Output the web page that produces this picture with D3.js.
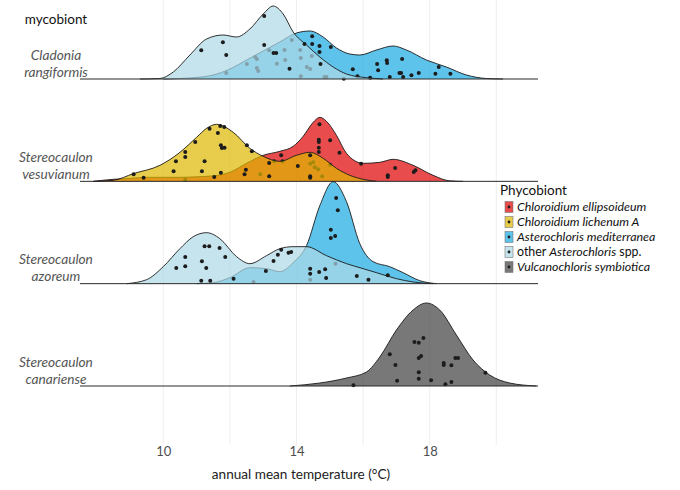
<!DOCTYPE html>
<html>
<head>
<meta charset="utf-8">
<script src="https://cdn.jsdelivr.net/npm/d3@7"></script>
<style>
  body { margin: 0; background: #fff; }
  svg { display: block; font-family: Lato, "Open Sans", sans-serif; }
</style>
</head>
<body>
<div id="chart"></div>
<script>
const width = 680;
const height = 490;

// mycobionts (rows, top to bottom) and phycobionts (fill groups, draw order)
const mycobionts = ["Cladonia rangiformis", "Stereocaulon vesuvianum", "Stereocaulon azoreum", "Stereocaulon canariense"];
const phycobionts = ["Chloroidium ellipsoideum", "Chloroidium lichenum A", "Asterochloris mediterranea", "other Asterochloris spp.", "Vulcanochloris symbiotica"];
const fills = ["#e00000", "#deb800", "#1aa9e2", "#aed8e7", "#3e3e3e"];

const gridTicks = [10, 12, 14, 16, 18, 20];
const axisTicks = [10, 14, 18];

// density curves: [temperature, scaled density]
const cladoniaMediterranea = [[10.0,0],[10.5,0.5],[11.0,1.5],[11.5,4],[12.0,10],[12.5,19],[13.0,28],[13.5,37],[14.0,46],[14.4,48],[14.8,42],[15.2,31],[15.6,25],[15.9,24],[16.4,29],[16.9,33],[17.3,29],[17.9,19],[18.5,12],[19.1,4],[19.7,0.5],[20.2,0]];
const cladoniaOther = [[9.3,0],[9.9,0.5],[10.3,7],[10.8,24],[11.3,40],[11.8,44],[12.2,42],[12.6,50],[13.0,65],[13.3,73],[13.6,65],[13.9,47],[14.3,34],[14.7,22],[15.1,12],[15.5,5],[16.1,1.3],[16.6,0]];
const vesuvianumEllipsoideum = [[7.9,0],[8.5,2],[9.0,3],[9.5,4],[10.0,4],[10.5,4],[11.0,4.5],[11.5,5.5],[12.0,9],[12.5,18],[13.0,26],[13.5,30],[13.9,35],[14.2,45],[14.5,59],[14.7,64],[14.9,60],[15.2,46],[15.5,28],[16.0,18],[16.5,19],[16.9,22],[17.5,16],[18.1,6],[18.6,0.5],[19.0,0]];
const vesuvianumLichenum = [[7.9,0],[8.5,1],[9.1,7.7],[9.9,16],[10.5,29],[11.0,44],[11.3,53],[11.6,57],[12.1,49],[12.6,33],[13.0,25],[13.5,20],[14.0,26],[14.4,29],[14.8,23],[15.2,13],[15.6,6],[16.0,2],[16.4,0]];
const azoreumMediterranea = [[11.0,0],[11.5,1],[12.0,6],[12.6,16],[13.1,15],[13.5,12],[13.9,21],[14.3,38],[14.7,78],[15.1,102],[15.5,82],[15.9,40],[16.3,22],[16.8,17],[17.2,11],[17.7,3],[18.2,0]];
const azoreumOther = [[8.9,0],[9.5,4],[10.0,17],[10.5,35],[10.9,47],[11.3,51],[11.7,45],[12.2,27],[12.6,20],[13.1,28],[13.5,35],[13.9,37],[14.3,37],[14.9,28],[15.5,20],[16.0,15],[16.4,11],[17.0,5],[17.5,1.7],[18.1,0]];
const canarienseVulcanochloris = [[13.8,0],[14.7,3],[15.5,8],[16.1,14],[16.5,29],[17.0,56],[17.5,76],[17.9,83],[18.3,76],[18.8,51],[19.3,26],[19.8,11],[20.4,3],[21.2,0]];

// jittered sample points: [temperature, jitter height]
const cladoniaMediterraneaPts = [[14.47,42.7],[14.47,35],[14.69,33],[14.69,27],[15.03,32],[15.69,9.7],[15.83,2.7],[16.21,1.3],[16.42,15],[16.45,8.7],[16.71,18.7],[16.72,16],[16.80,2],[17.09,6],[17.14,6],[17.17,20],[17.20,2],[17.45,3.7],[17.67,6],[18.17,5.3],[18.27,12],[18.62,5.3],[11.89,6],[12.51,15],[12.76,22],[12.81,20],[12.81,11],[12.85,8],[13.18,28.7],[13.41,15.3],[13.64,29],[13.66,19],[13.86,39],[14.11,29],[14.13,21],[14.31,12],[14.46,23],[14.13,2.7],[14.84,2],[14.90,2],[15.42,0.3],[14.41,10]];
const cladoniaOtherPts = [[11.14,28.7],[11.79,36.7],[11.89,24],[13.03,63],[13.03,34],[13.31,26],[13.39,26],[13.79,10.3],[14.72,15],[14.24,35]];
const vesuvianumEllipsoideumPts = [[10.66,1.7],[12.91,7],[13.33,20],[13.58,20],[14.41,17.7],[14.5,19],[14.55,14],[14.65,12],[14.77,5],[13.54,26],[14.69,57],[14.67,41.7],[14.67,39.3],[15.01,41],[14.67,33.7],[14.67,29.3],[15.29,28.7],[15.01,16.7],[15.94,17.7],[16.96,13.3],[16.74,6],[16.74,4.3],[17.52,9.3],[17.57,11]];
const vesuvianumLichenumPts = [[9.11,7],[9.41,3.7],[10.31,10],[10.38,20],[10.66,24.3],[10.66,29.3],[10.96,39.3],[11.24,20],[11.16,10],[11.39,52.7],[11.53,4.3],[11.64,48.3],[11.71,55.3],[11.83,54.3],[11.73,36],[11.76,33.3],[11.84,33.7],[11.73,8.7],[12.48,11.7],[12.44,7],[12.51,36],[12.66,30],[13.18,18.3],[13.18,5],[14.04,15.3],[14.41,26],[14.41,5],[14.41,3.7]];
const azoreumMediterraneaPts = [[12.71,1.7],[14.41,4],[15.17,20],[15.03,54],[15.03,45.7],[15.16,47.7],[15.19,85.7],[15.24,73.3]];
const azoreumOtherPts = [[10.39,15.7],[10.66,26.7],[10.66,17.3],[11.16,22.3],[11.14,3],[11.41,3],[11.24,37.3],[11.38,37.3],[11.29,15.7],[11.69,35.7],[11.86,26.7],[12.11,5],[13.08,12.7],[13.31,22.7],[13.44,29],[13.54,34],[13.76,31],[13.84,31.7],[14.41,15],[14.41,10],[14.68,11.7],[14.86,14.3],[14.89,5.7],[15.81,7.7],[16.16,4],[16.74,8.3]];
const canarienseVulcanochlorisPts = [[15.71,0.7],[16.80,31.7],[16.97,21],[17.02,5.3],[17.54,44],[17.67,43.3],[17.81,48],[17.67,28],[17.74,30],[17.67,13.7],[17.67,7.3],[18.04,5.7],[18.42,23],[18.42,21],[18.65,20.7],[18.77,28],[18.85,28],[18.47,1.7],[18.65,4],[19.67,13.3]];

const series = [
    { myco: mycobionts[0], phyco: phycobionts[2], density: cladoniaMediterranea, points: cladoniaMediterraneaPts },
    { myco: mycobionts[0], phyco: phycobionts[3], density: cladoniaOther, points: cladoniaOtherPts },
    { myco: mycobionts[1], phyco: phycobionts[0], density: vesuvianumEllipsoideum, points: vesuvianumEllipsoideumPts },
    { myco: mycobionts[1], phyco: phycobionts[1], density: vesuvianumLichenum, points: vesuvianumLichenumPts },
    { myco: mycobionts[2], phyco: phycobionts[2], density: azoreumMediterranea, points: azoreumMediterraneaPts },
    { myco: mycobionts[2], phyco: phycobionts[3], density: azoreumOther, points: azoreumOtherPts },
    { myco: mycobionts[3], phyco: phycobionts[4], density: canarienseVulcanochloris, points: canarienseVulcanochlorisPts }
];

const x = d3.scaleLinear().domain([7.5, 21.25]).range([80, 538]);
const y = d3.scalePoint().domain(mycobionts).range([79, 386]);
const h = d3.scaleLinear().domain([0, 100]).range([0, 100]);
const color = d3.scaleOrdinal().domain(phycobionts).range(fills);
const fillOpacity = 0.7;

const svg = d3.select("#chart").append("svg")
    .attr("width", width)
    .attr("height", height);

// vertical grid
svg.append("g")
    .selectAll("line")
    .data(gridTicks)
    .join("line")
    .attr("x1", d => x(d)).attr("x2", d => x(d))
    .attr("y1", 0).attr("y2", 445)
    .attr("stroke", "#ececec")
    .attr("stroke-width", 0.9);

// ridges, top to bottom
mycobionts.forEach(m => {
    const base = y(m);
    const g = svg.append("g");
    const area = d3.area().curve(d3.curveMonotoneX)
        .x(d => x(d[0])).y0(base).y1(d => base - h(d[1]));
    const line = d3.line().curve(d3.curveMonotoneX)
        .x(d => x(d[0])).y(d => base - h(d[1]));

    series.filter(s => s.myco === m).forEach(s => {
        g.append("path")
            .attr("d", area(s.density))
            .attr("fill", color(s.phyco))
            .attr("fill-opacity", fillOpacity);
        g.append("g")
            .selectAll("circle")
            .data(s.points)
            .join("circle")
            .attr("cx", d => x(d[0]))
            .attr("cy", d => base - h(d[1]))
            .attr("r", 2)
            .attr("fill", "#1c1c1c");
        g.append("path")
            .attr("d", line(s.density))
            .attr("fill", "none")
            .attr("stroke", "#1a1a1a")
            .attr("stroke-width", 0.9);
    });

    g.append("line")
        .attr("x1", x.range()[0]).attr("x2", x.range()[1])
        .attr("y1", base).attr("y2", base)
        .attr("stroke", "#2a2a2a")
        .attr("stroke-width", 1);

    const words = m.split(" ");
    svg.append("text")
        .attr("text-anchor", "middle")
        .attr("font-style", "italic")
        .attr("font-size", 13.7)
        .attr("fill", "#555")
        .selectAll("tspan")
        .data(words)
        .join("tspan")
        .attr("x", 56)
        .attr("y", (d, i) => base - 24 + i * 17)
        .attr("dy", "0.35em")
        .text(d => d);
});

svg.append("text")
    .attr("x", 56).attr("y", 19).attr("dy", "0.35em")
    .attr("text-anchor", "middle")
    .attr("font-size", 13.5)
    .attr("fill", "#111")
    .text("mycobiont");

// x axis
const axis = svg.append("g")
    .attr("transform", "translate(0,442)")
    .call(d3.axisBottom(x).tickValues(axisTicks).tickSize(0).tickPadding(5));
axis.select(".domain").remove();
axis.selectAll("text")
    .attr("font-family", "Lato, sans-serif")
    .attr("font-size", 13)
    .attr("fill", "#4d4d4d");

svg.append("text")
    .attr("x", 301).attr("y", 474).attr("dy", "0.35em")
    .attr("text-anchor", "middle")
    .attr("font-size", 13.6)
    .attr("fill", "#222")
    .text("annual mean temperature (°C)");

// legend
const legend = svg.append("g");
legend.append("text")
    .attr("x", 500).attr("y", 190).attr("dy", "0.35em")
    .attr("font-size", 13.5)
    .attr("fill", "#111")
    .text("Phycobiont");

const rowY = i => 207 + i * 15;
const item = legend.selectAll("g.item")
    .data(phycobionts)
    .join("g")
    .attr("class", "item");
item.append("rect")
    .attr("x", 505).attr("y", (d, i) => rowY(i) - 5.5)
    .attr("width", 8).attr("height", 11)
    .attr("fill", d => color(d))
    .attr("fill-opacity", fillOpacity)
    .attr("stroke", "#777")
    .attr("stroke-width", 0.6);
item.append("circle")
    .attr("cx", 509).attr("cy", (d, i) => rowY(i))
    .attr("r", 1.4)
    .attr("fill", "#1c1c1c");
const label = item.append("text")
    .attr("x", 517).attr("y", (d, i) => rowY(i)).attr("dy", "0.35em")
    .attr("font-size", 12.4)
    .attr("fill", "#111");
label.each(function (d) {
    const t = d3.select(this);
    if (d.startsWith("other")) {
        t.append("tspan").text("other ");
        t.append("tspan").attr("font-style", "italic").text("Asterochloris");
        t.append("tspan").text(" spp.");
    } else {
        t.attr("font-style", "italic").text(d);
    }
});
</script>
</body>
</html>
